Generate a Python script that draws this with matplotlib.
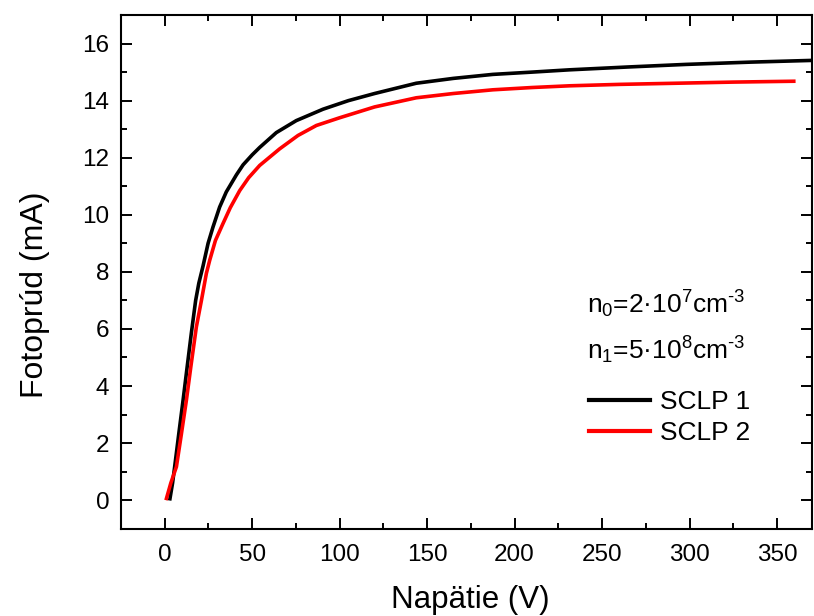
import matplotlib
matplotlib.use('Agg')
import matplotlib.pyplot as plt
from matplotlib.ticker import MultipleLocator

plt.rcParams['font.family'] = ['Liberation Sans', 'DejaVu Sans']
plt.rcParams['mathtext.fontset'] = 'custom'
plt.rcParams['mathtext.rm'] = 'Liberation Sans'
plt.rcParams['mathtext.it'] = 'Liberation Sans'
plt.rcParams['mathtext.default'] = 'regular'

# SCLP 1 (black)
u1 = [3, 4.5, 5.7, 8, 10.5, 13, 15.2, 17.7, 19.5, 21.9, 24.8, 27.6, 31.4,
      35.2, 41, 44.8, 50, 54.3, 63.8, 75.2, 90.5, 105, 120, 143.8, 165,
      187.6, 210, 231.4, 265, 298, 335, 370]
i1 = [0.05, 0.6, 1.17, 2.3, 3.5, 4.75, 5.84, 7.0, 7.6, 8.2, 9.0, 9.57, 10.27,
      10.8, 11.4, 11.75, 12.1, 12.36, 12.88, 13.3, 13.7, 14.0, 14.25, 14.61,
      14.78, 14.92, 15.0, 15.08, 15.18, 15.27, 15.35, 15.41]

# SCLP 2 (red)
u2 = [1, 3.5, 6.7, 9.5, 12.4, 15, 18.1, 21, 23.8, 25.7, 29, 33.3, 37.5, 42.9,
      48, 54.3, 65.7, 76.2, 86.7, 100, 120, 143.8, 165, 187.6, 210, 231.4,
      260, 292.4, 325, 359.6]
i2 = [0.06, 0.6, 1.17, 2.3, 3.5, 4.7, 6.07, 7.0, 7.94, 8.4, 9.1, 9.69, 10.25,
      10.85, 11.3, 11.73, 12.31, 12.78, 13.13, 13.4, 13.78, 14.1, 14.25,
      14.38, 14.46, 14.52, 14.57, 14.61, 14.65, 14.68]

fig = plt.figure(figsize=(8.14, 6.16), dpi=100)
ax = fig.add_axes([0.1486, 0.1417, 0.8489, 0.8339])

ax.plot(u1, i1, color='black', lw=2.6, label='SCLP 1')
ax.plot(u2, i2, color='red', lw=2.6, label='SCLP 2')

ax.set_xlim(-25, 370)
ax.set_ylim(-1, 17)
ax.xaxis.set_major_locator(MultipleLocator(50))
ax.xaxis.set_minor_locator(MultipleLocator(25))
ax.yaxis.set_major_locator(MultipleLocator(2))
ax.yaxis.set_minor_locator(MultipleLocator(1))

# ticks inside on all four sides
ax.tick_params(which='both', direction='in', top=True, right=True,
               width=1.4, labelsize=17.5)
ax.tick_params(axis='x', pad=11)
ax.tick_params(axis='y', pad=8.5)
ax.tick_params(which='major', length=8)
ax.tick_params(which='minor', length=4)
for s in ax.spines.values():
    s.set_linewidth(1.5)

ax.set_xlabel('Napätie (V)', fontsize=22.5, va='baseline')
ax.xaxis.set_label_coords(0.505, -0.155)
ax.set_ylabel('Fotoprúd (mA)', fontsize=23)
ax.yaxis.set_label_coords(-0.103, 0.455)

ax.text(0.675, 0.42, r'n$_0$=2·10$^7$cm$^{\text{-}3}$', transform=ax.transAxes,
        fontsize=19)
ax.text(0.675, 0.33, r'n$_1$=5·10$^8$cm$^{\text{-}3}$', transform=ax.transAxes,
        fontsize=19)

leg = ax.legend(loc='upper left', bbox_to_anchor=(0.662, 0.29), frameon=False,
                fontsize=19, handlelength=2.3, handletextpad=0.4,
                labelspacing=0.25, borderaxespad=0)
for h in leg.get_lines():
    h.set_linewidth(3)

fig.savefig('out.png', dpi=100)
